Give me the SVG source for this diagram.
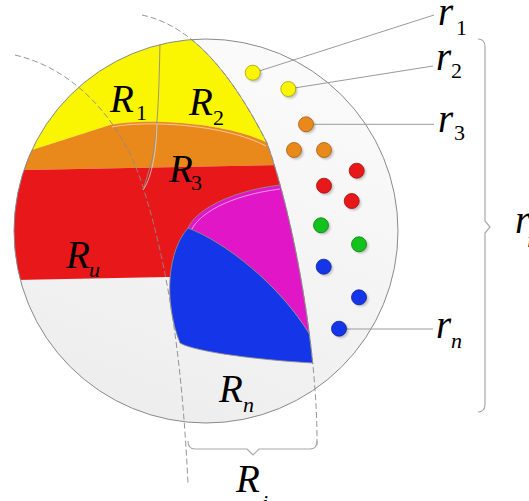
<svg xmlns="http://www.w3.org/2000/svg" width="529" height="501" viewBox="0 0 529 501">
<defs>
<linearGradient id="bg" x1="0.7" y1="0" x2="0.3" y2="1">
<stop offset="0" stop-color="#fbfbfb"/><stop offset="1" stop-color="#ededed"/>
</linearGradient>
<clipPath id="circ"><circle cx="206" cy="231" r="192"/></clipPath>
<clipPath id="left2"><path d="M0,0 L142,0 L142,15 C190,25 230,70 267,143 C293,215 318,350 317,447 L317,501 L0,501 Z"/></clipPath>
<clipPath id="top363"><rect x="0" y="0" width="529" height="364"/></clipPath>
<filter id="sh" x="-50%" y="-50%" width="200%" height="200%"><feGaussianBlur stdDeviation="1"/></filter>
<style>
.edge{fill:none;stroke:#8c8c8c;stroke-width:0.9}
.hl{fill:none;stroke:#ffffff;stroke-width:0.9;stroke-opacity:0.6}
.dash{fill:none;stroke:#8a8a8a;stroke-width:0.9;stroke-dasharray:6 3}
.lead{fill:none;stroke:#9a9a9a;stroke-width:1}
.brace{fill:none;stroke:#a8a8a8;stroke-width:1.2}
.dot{stroke-width:0.8}
.shd{fill:#000;opacity:0.22;filter:url(#sh)}
.big{font-family:"Liberation Serif","Times New Roman",serif;font-style:italic;font-size:39px;fill:#000}
.sub{font-family:"Liberation Serif","Times New Roman",serif;font-size:22px;fill:#000}
.subi{font-family:"Liberation Serif","Times New Roman",serif;font-style:italic;font-size:22px;fill:#000}
</style>
</defs>

<g id="disk">
<circle cx="206" cy="231" r="192" fill="url(#bg)"/>
</g>

<g id="regions" clip-path="url(#circ)">
<g clip-path="url(#left2)">
<path id="R1R2" d="M0,0 L400,0 L400,143 L268,143 C225,122 145,118 110,125 L32,150 L0,154 Z" fill="#faf500"/>
<path id="R3" d="M0,154 L32,150 L110,125 C145,118 225,122 268,143 L400,143 L400,162.7 L0,170.4 Z" fill="#e9891b"/>
<path id="Ru" d="M0,170.4 L400,162.7 L400,272.3 L0,280.4 Z" fill="#e81719"/>
<path id="magenta" d="M188,228 C195,212 225,192 280,185 L330,185 L330,340 L310,335 C280,285 225,242 188,228 Z" fill="#e117c7"/>
<path id="Rn" d="M188,228 C225,242 280,285 310,335 L330,335 L330,364 L313,363 C260,360 195,352 180,343 C163,300 168,250 188,228 Z" fill="#1535e8"/>
<path class="hl" d="M112,127 C145,120 225,124 266,146"/>
<path class="hl" d="M192,229 C199,215 226,196 280,189"/>
<path class="edge" d="M188,228 C195,212 225,192 280,185"/>
<path class="edge" d="M188,228 C225,242 280,285 310,335"/>
<path class="edge" d="M188,228 C168,250 163,300 180,343 C195,352 260,360 313,363"/>
<path class="edge" d="M160,42 C159,90 158,130 152,160 L143,190"/>
<path fill="none" stroke="#d8d8d8" stroke-width="0.8" d="M157,123 C156,160 150,180 143,190"/>
</g>
</g>

<g id="connectors">
<path class="dash" d="M15,55 C80,70 125,128 143,187 C173,282 183,383 188,483"/>
<path class="dash" d="M142,15 C190,25 230,70 267,143 C293,215 318,350 317,447"/>
<g clip-path="url(#circ)"><path class="edge" clip-path="url(#top363)" d="M142,15 C190,25 230,70 267,143 C293,215 318,350 317,447"/></g>
<circle cx="206" cy="231" r="192" fill="none" stroke="#8a8a8a" stroke-width="1"/>
<line class="lead" x1="253" y1="73" x2="434" y2="15"/>
<line class="lead" x1="288" y1="89" x2="433" y2="66"/>
<line class="lead" x1="306" y1="124.3" x2="434" y2="124.3"/>
<line class="lead" x1="339" y1="329" x2="433" y2="329"/>
<path class="brace" d="M478,39 Q485,39 485,47 L485,221 L490,227 L485,233 L485,404 Q485,412 478,412"/>
<path class="brace" d="M188,441 Q188,449 195,449 L247,449 L253,455 L259,449 L310,449 Q317,449 317,441"/>
</g>

<g id="dots">
<circle class="shd" cx="254.5" cy="74.5" r="7.5"/>
<circle class="dot" cx="252.7" cy="72.7" r="7.5" fill="#faf500" stroke="#a89f00"/>
<circle class="shd" cx="290" cy="91" r="7.5"/>
<circle class="dot" cx="288.3" cy="89" r="7.5" fill="#faf500" stroke="#a89f00"/>
<circle class="shd" cx="308" cy="126" r="7.5"/>
<circle class="dot" cx="306" cy="124.3" r="7.5" fill="#e9891b" stroke="#a86010"/>
<circle class="shd" cx="296" cy="152" r="7.5"/>
<circle class="dot" cx="294" cy="150" r="7.5" fill="#e9891b" stroke="#a86010"/>
<circle class="shd" cx="326" cy="152" r="7.5"/>
<circle class="dot" cx="324" cy="150" r="7.5" fill="#e9891b" stroke="#a86010"/>
<circle class="shd" cx="358.5" cy="172.5" r="7.5"/>
<circle class="dot" cx="356.7" cy="170.7" r="7.5" fill="#e81719" stroke="#a01010"/>
<circle class="shd" cx="326" cy="187.5" r="7.5"/>
<circle class="dot" cx="324" cy="185.7" r="7.5" fill="#e81719" stroke="#a01010"/>
<circle class="shd" cx="353.5" cy="203" r="7.5"/>
<circle class="dot" cx="351.7" cy="201" r="7.5" fill="#e81719" stroke="#a01010"/>
<circle class="shd" cx="323" cy="227" r="7.5"/>
<circle class="dot" cx="321" cy="225.3" r="7.5" fill="#13c21c" stroke="#0a8010"/>
<circle class="shd" cx="361" cy="246" r="7.5"/>
<circle class="dot" cx="359" cy="244.3" r="7.5" fill="#13c21c" stroke="#0a8010"/>
<circle class="shd" cx="325.5" cy="268.5" r="7.5"/>
<circle class="dot" cx="323.7" cy="266.7" r="7.5" fill="#1535e8" stroke="#0c209a"/>
<circle class="shd" cx="361" cy="299" r="7.5"/>
<circle class="dot" cx="359" cy="297.3" r="7.5" fill="#1535e8" stroke="#0c209a"/>
<circle class="shd" cx="341" cy="330.5" r="7.5"/>
<circle class="dot" cx="339" cy="328.7" r="7.5" fill="#1535e8" stroke="#0c209a"/>
</g>

<g id="labels">
<text class="big" x="110" y="112">R</text><text class="sub" x="136" y="120">1</text>
<text class="big" x="189" y="115">R</text><text class="sub" x="213" y="125">2</text>
<text class="big" x="169" y="182">R</text><text class="sub" x="191" y="190">3</text>
<text class="big" x="66" y="268">R</text><text class="subi" x="89" y="277">u</text>
<text class="big" x="219" y="402">R</text><text class="subi" x="243" y="412">n</text>
<text class="big" x="236" y="492">R</text><text class="subi" x="262" y="510">i</text>
<text class="big" x="438" y="25">r</text><text class="sub" x="456" y="35">1</text>
<text class="big" x="436" y="70">r</text><text class="sub" x="451" y="78">2</text>
<text class="big" x="438" y="132">r</text><text class="sub" x="454" y="140">3</text>
<text class="big" x="436" y="338">r</text><text class="subi" x="451" y="348">n</text>
<text class="big" x="515" y="233">r</text><text class="subi" x="527" y="247">i</text>
</g>
</svg>
